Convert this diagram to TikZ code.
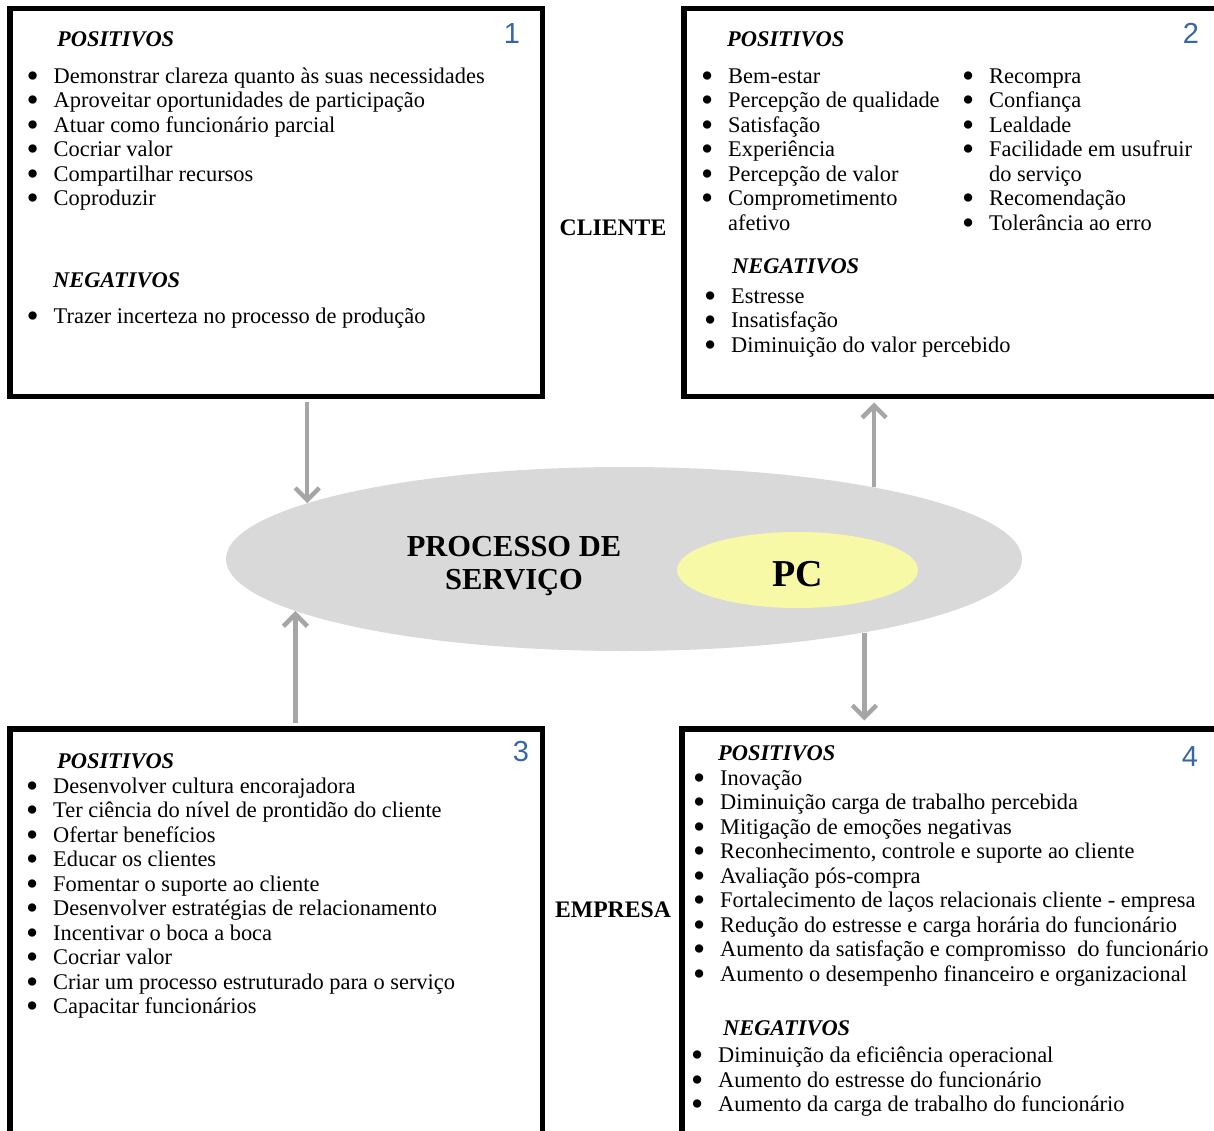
\documentclass[tikz,border=0pt]{standalone}
\usepackage{fontspec}
\usepackage{graphicx}
\setmainfont{Liberation Serif}
\newfontfamily\numfont{Liberation Sans}
\usepackage{tikz}
\usetikzlibrary{shapes.geometric,arrows.meta,positioning}
\definecolor{procgray}{HTML}{D9D9D9}
\definecolor{pcyellow}{HTML}{F7F9A6}
\definecolor{arrowgray}{HTML}{A6A6A6}
\definecolor{numblue}{HTML}{3567A8}
\newcommand{\listfont}{\fontsize{22.4}{24.5}\selectfont}
\newcommand{\bul}{\makebox[25pt][l]{\hspace*{-2pt}\raisebox{-0.18em}{\scalebox{1.55}{\textbullet}}}}
\newcommand{\nobul}{\hspace*{25pt}}

\begin{document}
\begin{tikzpicture}[x=1pt, y=-1pt,
  panel/.style={draw, line width=5.5pt, inner sep=0pt},
  itemlist/.style={anchor=base west, align=left, inner sep=0pt, font=\listfont},
  heading/.style={anchor=base west, inner sep=0pt, font=\listfont\bfseries\itshape},
  side/.style={anchor=base, inner sep=0pt, font=\fontsize{23.7}{26}\selectfont\bfseries},
  boxnum/.style={anchor=base, inner sep=0pt, text=numblue, font=\numfont\fontsize{29}{32}\selectfont},
  flow/.style={arrowgray, line width=4.5pt, -{Straight Barb[length=12pt,width=24pt]}}]
  \useasboundingbox (0,0) rectangle (1214,1131);
  \clip (0,0) rectangle (1214,1131);

  % process in the middle (multi-line nodes sit on their last baseline)
  \node[ellipse, fill=procgray, inner sep=0pt, minimum width=796pt, minimum height=184pt] (proc) at (624,559) {};
  \node[ellipse, fill=pcyellow, inner sep=0pt, minimum width=241pt, minimum height=76pt] (pc) at (797.5,570) {};
  \node[anchor=base, align=center, inner sep=0pt, font=\fontsize{30.5}{33}\selectfont\bfseries] (proctext) at (514,589) {PROCESSO DE\\SERVIÇO};
  \node[anchor=base, inner sep=0pt, font=\fontsize{38}{40}\selectfont\bfseries] (pctext) at (797.5,586) {PC};

  % the four panels
  \node[panel, minimum width=532.5pt, minimum height=387.5pt] (box1) at (276,202.5) {};
  \node[panel, minimum width=556pt, minimum height=387.5pt] (box2) at (962,202.5) {};
  \node[panel, minimum width=532.5pt, minimum height=421.25pt] (box3) at (276,939.4) {};
  \node[panel, minimum width=558pt, minimum height=421.25pt] (box4) at (961,939.4) {};

  \node[boxnum] (n1) at (512,43.3) {1};
  \node[boxnum] (n2) at (1191,43.3) {2};
  \node[boxnum] (n3) at (521,761.7) {3};
  \node[boxnum] (n4) at (1190,766) {4};

  \node[side] (cliente) at (613,236) {CLIENTE};
  \node[side] (empresa) at (613,917) {EMPRESA};

  % box 1
  \node[heading] (h1pos) at (57,46.7) {POSITIVOS};
  \node[itemlist] (l1pos) at (28.5,205.8) {\bul Demonstrar clareza quanto às suas necessidades\\
    \bul Aproveitar oportunidades de participação\\
    \bul Atuar como funcionário parcial\\
    \bul Cocriar valor\\
    \bul Compartilhar recursos\\
    \bul Coproduzir};
  \node[heading] (h1neg) at (53,287.3) {NEGATIVOS};
  \node[itemlist] (l1neg) at (28.5,323.3) {\bul Trazer incerteza no processo de produção};

  % box 2
  \node[heading] (h2pos) at (727,46.7) {POSITIVOS};
  \node[itemlist] (l2posa) at (703,230.3) {\bul Bem-estar\\
    \bul Percepção de qualidade\\
    \bul Satisfação\\
    \bul Experiência\\
    \bul Percepção de valor\\
    \bul Comprometimento\\
    \nobul afetivo};
  \node[itemlist] (l2posb) at (964,230.3) {\bul Recompra\\
    \bul Confiança\\
    \bul Lealdade\\
    \bul Facilidade em usufruir\\
    \nobul do serviço\\
    \bul Recomendação\\
    \bul Tolerância ao erro};
  \node[heading] (h2neg) at (732,274) {NEGATIVOS};
  \node[itemlist] (l2neg) at (706,352.3) {\bul Estresse\\
    \bul Insatisfação\\
    \bul Diminuição do valor percebido};

  % box 3
  \node[heading] (h3pos) at (57,768.3) {POSITIVOS};
  \node[itemlist] (l3pos) at (28,1013.5) {\bul Desenvolver cultura encorajadora\\
    \bul Ter ciência do nível de prontidão do cliente\\
    \bul Ofertar benefícios\\
    \bul Educar os clientes\\
    \bul Fomentar o suporte ao cliente\\
    \bul Desenvolver estratégias de relacionamento\\
    \bul Incentivar o boca a boca\\
    \bul Cocriar valor\\
    \bul Criar um processo estruturado para o serviço\\
    \bul Capacitar funcionários};

  % box 4
  \node[heading] (h4pos) at (718,760) {POSITIVOS};
  \node[itemlist] (l4pos) at (695,981) {\bul Inovação\\
    \bul Diminuição carga de trabalho percebida\\
    \bul Mitigação de emoções negativas\\
    \bul Reconhecimento, controle e suporte ao cliente\\
    \bul Avaliação pós-compra\\
    \bul Fortalecimento de laços relacionais cliente - empresa\\
    \bul Redução do estresse e carga horária do funcionário\\
    \bul Aumento da satisfação e compromisso~ do funcionário\\
    \bul Aumento o desempenho financeiro e organizacional};
  \node[heading] (h4neg) at (723,1035) {NEGATIVOS};
  \node[itemlist] (l4neg) at (693,1111.8) {\bul Diminuição da eficiência operacional\\
    \bul Aumento do estresse do funcionário\\
    \bul Aumento da carga de trabalho do funcionário};

  % arrows
  \draw[flow, shorten <=3pt] (box1.south -| proc.170.6) -- (proc.170.6);
  \draw[flow, shorten >=3.5pt] (proc.16.2) -- (box2.south -| proc.16.2);
  \draw[flow, shorten <=3pt] (box3.north -| proc.189) -- (proc.189);
  \draw[flow, shorten >=5.5pt] (proc.343.4) -- (box4.north -| proc.343.4);
\end{tikzpicture}
\end{document}
